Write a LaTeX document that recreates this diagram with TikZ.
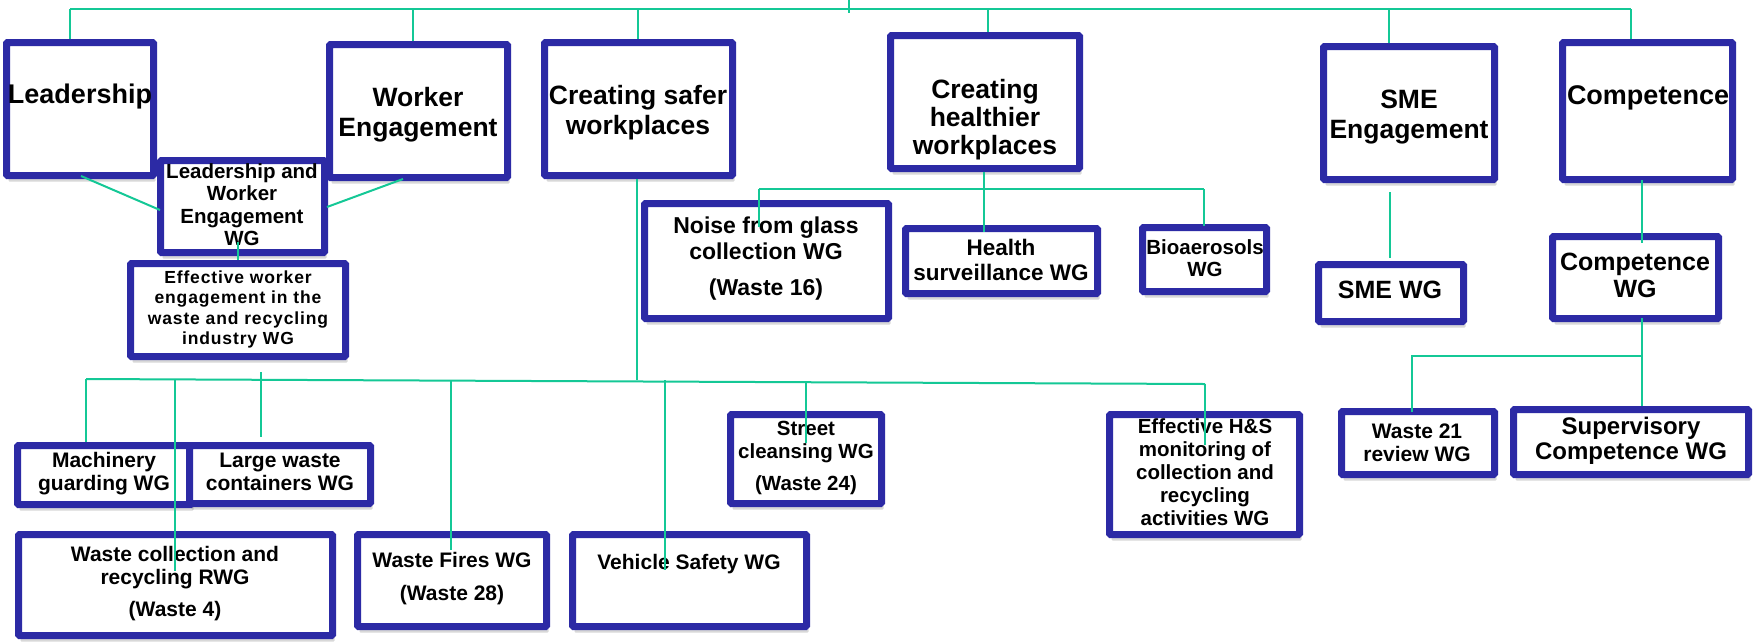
\documentclass[tikz,border=0pt]{standalone}
\usepackage{fontspec}
\setmainfont{Liberation Sans}
\usetikzlibrary{shadows}
\definecolor{boxblue}{RGB}{44,42,165}
\definecolor{conngreen}{RGB}{20,200,150}
\tikzset{
  box/.style={draw=boxblue, line width=7pt, fill=white, rounded corners=1pt, inner sep=0pt,
    drop shadow={shadow xshift=2pt, shadow yshift=-6pt, opacity=0.25, fill=black!60}},
  txt/.style={align=center, inner sep=0pt},
  conn/.style={draw=conngreen, line width=2pt},
}
\newcommand\mkbox[5]{\node[box, minimum width={#4-#2-7}, minimum height={#5-#3-7}] (#1) at ({(#2+#4)/2},{(#3+#5)/2}) {};}
\newcommand\mktext[5]{\node[txt, font=\fontsize{#4}{#5}\selectfont\bfseries] (#1) at (#2) {#3};}
\begin{document}
\begin{tikzpicture}[x=1pt,y=-1pt]
\useasboundingbox[fill=white] (0,0) rectangle (1758,641);

% ---- top level boxes
\mkbox{lead}{3}{39}{157}{179}
\mkbox{worker}{326}{41}{511}{181}
\mkbox{safer}{541}{39}{736}{179}
\mkbox{health}{887}{32}{1083}{172}
\mkbox{sme}{1320}{43}{1498}{183}
\mkbox{comp}{1559}{39}{1736}{183}
% ---- second level
\mkbox{lwe}{157}{157}{328}{256}
\mkbox{eweng}{127}{260}{349}{360}
\mkbox{noise}{641}{200}{892}{322}
\mkbox{hsurv}{902}{225}{1101}{297}
\mkbox{bio}{1139}{224}{1270}{295}
\mkbox{smewg}{1315}{261}{1467}{325}
\mkbox{compwg}{1549}{233}{1722}{322}
% ---- lower level
\mkbox{mach}{14}{442}{195}{508}
\mkbox{large}{186}{442}{374}{507}
\mkbox{wcoll}{15}{531}{336}{639}
\mkbox{fires}{354}{531}{550}{630}
\mkbox{vehicle}{569}{531}{810}{630}
\mkbox{street}{727}{411}{885}{507}
\mkbox{hsmon}{1106}{411}{1303}{538}
\mkbox{wtwo}{1338}{408}{1498}{478}
\mkbox{superv}{1510}{406}{1752}{478}

% ---- texts
\mktext{leadT}{80,97}{Leadership}{27}{30}
\mktext{workerT}{418,115}{Worker\\Engagement}{26.5}{30}
\mktext{saferT}{638,113}{Creating safer\\workplaces}{26.5}{30}
\mktext{healthT}{985,120}{Creating\\healthier\\workplaces}{26.5}{28}
\mktext{smeT}{1409,117}{SME\\Engagement}{26.5}{30}
\mktext{compT}{1648,98}{Competence}{27}{30}
\mktext{lweT}{242,204.5}{Leadership and\\Worker\\Engagement\\WG}{20.5}{22.5}
\node[txt, font=\fontsize{17.5}{20.5}\selectfont\bfseries\addfontfeature{LetterSpace=5}] (ewengT) at (238,309.5)
  {Effective worker\\engagement in the\\waste and recycling\\industry WG};
\mktext{machT}{104,473.5}{Machinery\\guarding WG}{21}{23}
\mktext{largeT}{280,472}{Large waste\\containers WG}{21}{23}
\mktext{wcollT}{175,583.5}{Waste collection and\\recycling RWG\\[9pt](Waste 4)}{21}{23}
\mktext{firesT}{452,578.5}{Waste Fires WG\\[10pt](Waste 28)}{21}{23}
\mktext{vehicleT}{689,564}{Vehicle Safety WG}{21}{23}
\mktext{streetT}{806,457.5}{Street\\cleansing WG\\[9pt](Waste 24)}{20.5}{23}
\mktext{hsmonT}{1205,472.5}{Effective H\&S\\monitoring of\\collection and\\recycling\\activities WG}{20.5}{23}
\mktext{noiseT}{766,259}{Noise from glass\\collection WG\\[10pt](Waste 16)}{23}{26}
\mktext{hsurvT}{1001,259.5}{Health\\surveillance WG}{22.5}{25}
\mktext{bioT}{1205,258}{Bioaerosols\\WG}{20.5}{22}
\mktext{smewgT}{1390,290}{SME WG}{25}{27}
\mktext{compwgT}{1635,275.5}{Competence\\WG}{25}{27}
\mktext{wtwoT}{1417,442.5}{Waste 21\\review WG}{21}{23}
\mktext{supervT}{1631,440.5}{Supervisory\\Competence WG}{24}{25}

% ---- connectors: top bus
\coordinate (rootTop) at (849,0);
\coordinate (rootBot) at (849,13);
\coordinate (jLead) at (70,9);
\coordinate (jWorker) at (412.5,9);
\coordinate (jSafer) at (638,9);
\coordinate (jHealth) at (988,9);
\coordinate (jSme) at (1389,9);
\coordinate (jComp) at (1631,9);
\draw[conn] (rootTop) -- (rootBot);
\draw[conn] (jLead) -- (jComp);
\foreach \j/\n in {jLead/lead, jWorker/worker, jSafer/safer, jHealth/health, jSme/sme, jComp/comp}
  \draw[conn] (\j) -- (\j |- \n.north);

% ---- leadership / worker engagement
\coordinate (dLa) at (81,176);
\coordinate (dLb) at (160,210);
\coordinate (dWa) at (403,179);
\coordinate (dWb) at (327,207);
\draw[conn] (dLa) -- (dLb);
\draw[conn] (dWa) -- (dWb);
\coordinate (lweIn) at (237.5,242);
\draw[conn] (lweIn) -- (lweIn |- eweng.north);

% ---- safer workplaces bus
\coordinate (safB) at (637,179);
\coordinate (bSafer) at (637,380);
\coordinate (bL) at (86,379);
\coordinate (bR) at (1205,384);
\draw[conn] (safB) -- (bSafer);
\draw[conn] (bL) -- (bR);
\draw[conn] (bL) -- (bL |- mach.north);
\coordinate (bW) at (175,379);
\coordinate (bWend) at (175,571);
\draw[conn] (bW) -- (bWend);
\coordinate (bLg) at (261,372);
\coordinate (bLgEnd) at (261,437);
\draw[conn] (bLg) -- (bLgEnd);
\coordinate (bF) at (451,381);
\coordinate (bFend) at (451,550);
\draw[conn] (bF) -- (bFend);
\coordinate (bV) at (665,380);
\coordinate (bVend) at (665,570);
\draw[conn] (bV) -- (bVend);
\coordinate (bS) at (806,383);
\coordinate (bSend) at (806,443);
\draw[conn] (bS) -- (bSend);
\coordinate (bHend) at (1205,445);
\draw[conn] (bR) -- (bHend);

% ---- healthier workplaces bus
\coordinate (hB) at (984,172);
\coordinate (hBend) at (984,232);
\draw[conn] (hB) -- (hBend);
\coordinate (hL) at (759,189);
\coordinate (hR) at (1204,189);
\draw[conn] (hL) -- (hR);
\coordinate (hLend) at (759,227);
\coordinate (hRend) at (1204,226);
\draw[conn] (hL) -- (hLend);
\draw[conn] (hR) -- (hRend);

% ---- SME
\coordinate (sA) at (1389.5,192);
\coordinate (sB) at (1389.5,258);
\draw[conn] (sA) -- (sB);

% ---- competence
\coordinate (cA) at (1642,180);
\coordinate (cB) at (1642,243);
\draw[conn] (cA) -- (cB);
\coordinate (cC) at (1642,318);
\coordinate (cJ) at (1642,356);
\coordinate (cL) at (1412,356);
\coordinate (cLend) at (1412,412);
\draw[conn] (cC) -- (cC |- superv.north);
\draw[conn] (cJ) -- (cL) -- (cLend);
\end{tikzpicture}
\end{document}
